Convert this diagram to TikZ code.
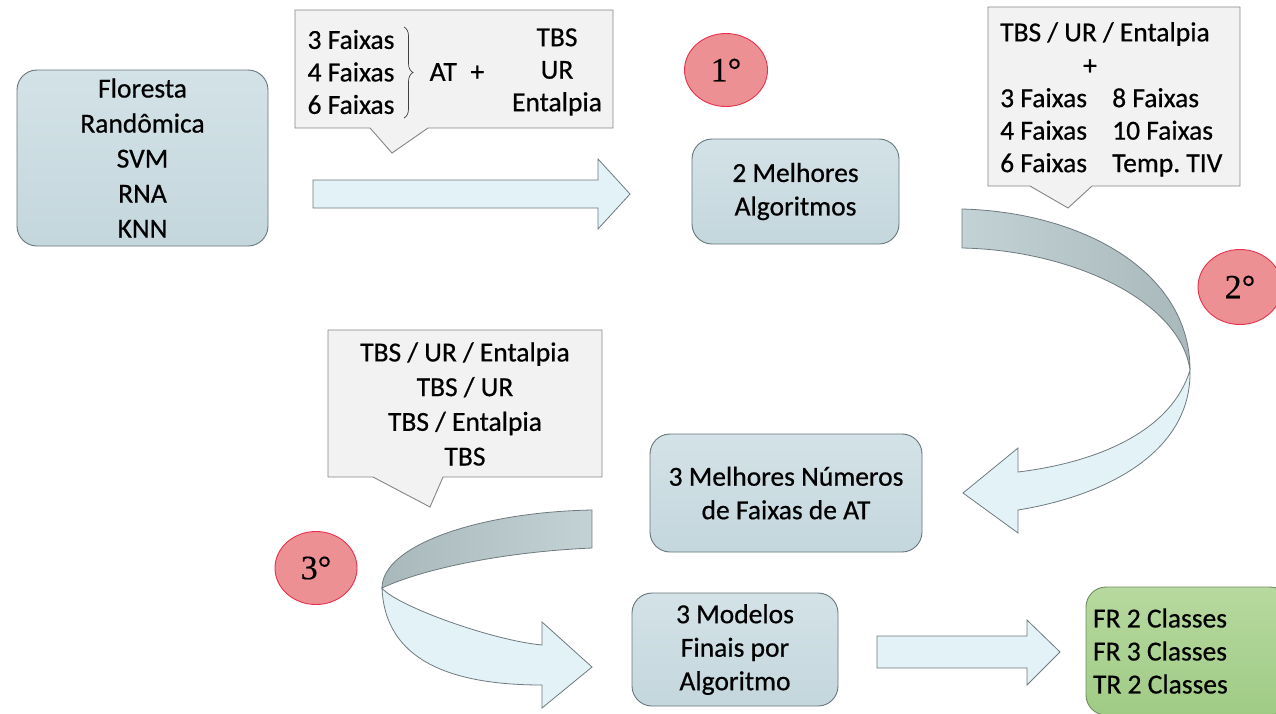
\documentclass[tikz,border=0pt]{standalone}
\usepackage{fontspec}
\setmainfont{Carlito}[FakeBold=0.6]
\newfontfamily\ordfont{Liberation Serif}[FakeBold=0.4]
\usetikzlibrary{shapes.geometric,decorations.pathreplacing}

\definecolor{boxtop}{HTML}{D3E2E7}
\definecolor{boxbot}{HTML}{C4D7DD}
\definecolor{boxline}{HTML}{66767B}
\definecolor{callfill}{HTML}{F2F2F2}
\definecolor{callline}{HTML}{858585}
\definecolor{arrowblue}{HTML}{E2F2F7}
\definecolor{arrowline}{HTML}{6E7A7E}
\definecolor{bandlight}{HTML}{C3D2D5}
\definecolor{banddark}{HTML}{A8B8BB}
\definecolor{ordfill}{HTML}{EC9093}
\definecolor{ordline}{HTML}{E6304D}
\definecolor{greentop}{HTML}{B7D99F}
\definecolor{greenbot}{HTML}{9FCB85}
\definecolor{greenline}{HTML}{6F8C60}

\tikzset{
  stagebox/.style={draw=boxline, line width=0.9pt, rounded corners=20pt,
    top color=boxtop, bottom color=boxbot, align=center, inner sep=0pt,
    font=\fontsize{27.5}{33.5}\selectfont},
  resultbox/.style={draw=greenline, line width=0.9pt, rounded corners=20pt,
    top color=greentop, bottom color=greenbot, align=flush left, inner xsep=7pt,
    text width=190pt, font=\fontsize{27.5}{33}\selectfont},
  callout/.style={draw=callline, line width=0.9pt, fill=callfill},
  calltext/.style={inner sep=0pt, font=\fontsize{27.5}{32.5}\selectfont},
  ordinal/.style={ellipse, draw=ordline, line width=0.9pt, fill=ordfill,
    inner sep=0pt, font=\ordfont\fontsize{34}{34}\selectfont},
  blockarrow/.style={draw=arrowline, line width=0.8pt, fill=arrowblue},
  backband/.style={draw=arrowline, line width=0.8pt},
}

\begin{document}
\begin{tikzpicture}[x=1pt,y=-1pt]
\useasboundingbox (0,0) rectangle (1276,713);

% ---------- stage boxes ----------
\node[stagebox, minimum width=251pt, minimum height=176pt,
      font=\fontsize{27.5}{35}\selectfont] (algs) at (142.5,158)
  {Floresta\\Randômica\\SVM\\RNA\\KNN};
\node[stagebox, minimum width=207pt, minimum height=105pt] (best2) at (795.5,191.5)
  {2 Melhores\\Algoritmos};
\node[stagebox, minimum width=272pt, minimum height=118pt] (best3) at (786,493)
  {3 Melhores Números\\de Faixas de AT};
\node[stagebox, minimum width=206pt, minimum height=113pt] (final) at (735,649.5)
  {3 Modelos\\Finais por\\Algoritmo};
\node[resultbox, minimum height=128pt] (models) at (1188,651)
  {FR 2 Classes\\FR 3 Classes\\TR 2 Classes};

% ---------- callout 1 ----------
\draw[callout] (295,10) -- (613,10) -- (613,128) -- (428,128) -- (392,153)
  -- (370,128) -- (295,128) -- cycle;
\node[calltext, align=left] (bands1) at (351,72) {3 Faixas\\4 Faixas\\6 Faixas};
\draw[decorate, decoration={brace, amplitude=9pt}, black!75, line width=0.7pt]
  (404,27) -- (404,118);
\node[calltext] (atplus) at (457,72) {AT\enspace+};
\node[calltext, align=center] (vars1) at (557,72) {TBS\\UR\\Entalpia};

% ---------- callout 2 ----------
\draw[callout] (988,7) -- (1240,7) -- (1240,186) -- (1092,186) -- (1068,208)
  -- (1030,186) -- (988,186) -- cycle;
\node[calltext] (vars2) at (1105,34) {TBS / UR / Entalpia};
\node[calltext] (plus2) at (1090,67) {+};
\node[calltext, align=left, anchor=north west] (bands2a) at (1000,88)
  {3 Faixas\\4 Faixas\\6 Faixas};
\node[calltext, align=left, anchor=north west] (bands2b) at (1112,88)
  {8 Faixas\\10 Faixas\\Temp.\ TIV};

% ---------- callout 3 ----------
\draw[callout] (328,330) -- (602,330) -- (602,477) -- (443,477) -- (430,507)
  -- (373,477) -- (328,477) -- cycle;
\node[calltext, align=center, font=\fontsize{27.5}{34.7}\selectfont] (vars3) at (465,404)
  {TBS / UR / Entalpia\\TBS / UR\\TBS / Entalpia\\TBS};

% ---------- ordinal markers ----------
\node[ordinal, minimum width=83pt, minimum height=73pt] (step1) at (726,70) {1°};
\node[ordinal, minimum width=84pt, minimum height=75pt] (step2) at (1240,287) {2°};
\node[ordinal, minimum width=82pt, minimum height=73pt] (step3) at (316,568) {3°};

% ---------- straight block arrows ----------
\draw[blockarrow] (313,180) -- (598,180) -- (598,159) -- (630,194) -- (598,229)
  -- (598,208) -- (313,208) -- cycle;
\draw[blockarrow] (877,636) -- (1027,636) -- (1027,620) -- (1060,652) -- (1027,685)
  -- (1027,668) -- (877,668) -- cycle;

% ---------- curved arrow, stage 2 (turns down and back to the left) ----------
\draw[backband, left color=bandlight, right color=banddark]
  (962,209) .. controls (1080,212) and (1190,270) .. (1190,370)
  .. controls (1180,300) and (1070,250) .. (962,248) -- cycle;
\draw[blockarrow]
  (1190,370) .. controls (1192,450) and (1110,495) .. (1018,510)
  -- (1018,533) -- (963,493) -- (1018,448) -- (1018,472)
  .. controls (1100,462) and (1172,430) .. (1190,370) -- cycle;

% ---------- curved arrow, stage 3 (turns down and back to the right) ----------
\draw[backband, left color=banddark, right color=bandlight]
  (592,510) .. controls (480,512) and (382,545) .. (382,588)
  .. controls (420,570) and (500,552) .. (592,548) -- cycle;
\draw[blockarrow]
  (382,588) .. controls (385,660) and (450,685) .. (542,685)
  -- (542,708) -- (592,667) -- (542,622) -- (542,645)
  .. controls (490,640) and (395,605) .. (382,588) -- cycle;

\end{tikzpicture}
\end{document}
